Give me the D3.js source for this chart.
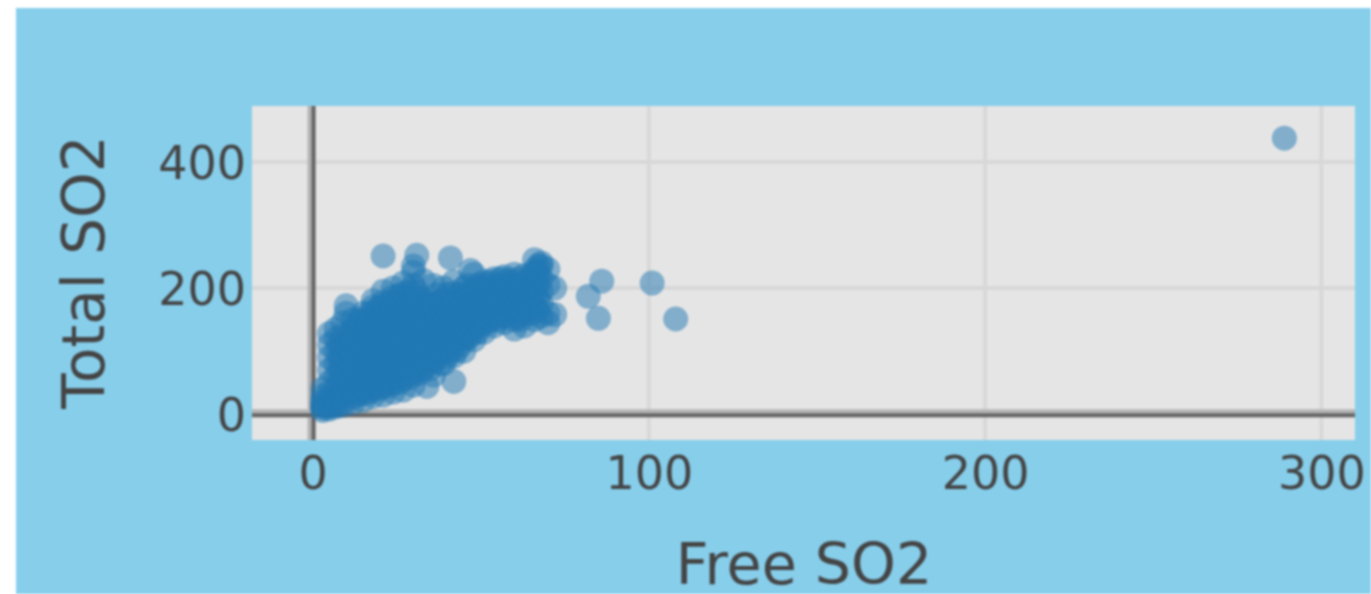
<!DOCTYPE html>
<html>
<head>
<meta charset="utf-8">
<script src="https://cdn.jsdelivr.net/npm/d3@7"></script>
<style>
  html, body { margin: 0; padding: 0; background: #fff; overflow: hidden; }
  svg { position: absolute; left: 16px; top: 8px; filter: blur(1.1px); }
  text { font-family: "DejaVu Sans", sans-serif; fill: #444; }
</style>
</head>
<body>
<script>
// values, row by row (same order in both arrays)
const freeSO2 = [
  3,3,3,3,3,3,
  5,5,5,5,5,5,5,5,5,5,
  7,7,7,7,7,7,7,7,7,
  8,8,8,8,8,
  9,9,9,9,9,9,9,9,9,
  10,10,
  11,11,11,11,11,11,
  12,12,12,12,12,12,12,12,12,
  13,13,13,13,13,13,13,
  14,14,14,14,14,14,14,
  15,15,15,15,15,15,15,15,15,
  16,16,16,16,16,16,16,
  17,17,17,17,17,17,17,17,
  18,18,18,18,18,18,18,18,18,18,
  19,19,19,19,19,19,19,
  20,20,20,20,20,20,20,20,
  21,21,21,21,21,21,21,21,21,21,21,
  22,22,22,22,22,22,22,
  23,23,23,23,23,23,23,23,
  24,24,24,24,24,24,24,24,24,24,
  25,25,25,25,25,25,25,
  26,26,26,26,26,26,26,26,
  27,27,27,27,27,27,27,27,27,27,
  28,28,28,28,28,28,28,
  29,29,29,29,29,29,29,29,
  30,30,30,30,30,30,30,30,30,30,31,30,
  31,31,31,31,31,31,31,
  32,32,32,32,32,32,32,
  34,33,33,33,33,33,33,33,33,
  34,34,34,34,34,34,
  35,35,35,35,35,35,
  36,36,36,36,36,36,36,36,
  37,37,37,37,37,37,
  38,38,38,38,38,38,
  39,39,39,39,39,39,39,
  40,40,40,40,40,40,
  41,41,41,41,41,
  42,42,42,42,42,42,42,42,41,
  43,43,43,43,43,
  44,44,44,44,44,
  45,45,45,45,45,45,
  46,46,46,46,46,46,
  47,47,47,47,
  48,48,48,48,48,48,47,
  49,49,49,49,49,
  50,50,50,50,
  51,51,51,51,51,
  52,52,52,52,
  53,53,53,53,
  54,54,54,54,54,
  55,55,55,55,
  56,56,56,56,
  57,57,57,57,57,
  58,58,58,58,
  59,59,59,
  60,60,60,60,60,60,
  61,61,61,61,
  62,62,62,62,
  63,63,63,63,63,
  64,64,64,
  65,65,65,65,
  66,66,66,66,66,66,
  67,67,67,67,67,
  68,68,68,68,68,68,
  70,70,70,70,72,72,
  82,86,85,101,108,289
];
const totalSO2 = [
  6,10,14,20,28,40,
  8,12,16,24,34,50,70,90,110,128,
  12,18,26,40,60,80,100,120,135,
  30,50,70,90,110,
  14,20,30,48,66,88,108,125,145,
  172,160,
  35,50,65,85,105,125,
  18,26,38,55,75,95,115,135,150,
  30,45,60,80,100,120,140,
  35,55,75,95,115,135,150,
  22,32,46,64,85,105,125,145,160,
  40,55,75,95,115,135,150,
  35,50,65,85,105,125,145,160,
  28,40,56,75,95,115,135,155,170,180,
  48,65,85,105,125,145,165,
  40,55,72,90,110,130,150,170,
  30,44,62,80,100,120,140,160,178,195,251,
  52,70,90,110,130,150,170,
  45,60,78,98,118,138,158,178,
  35,50,68,88,108,128,148,168,186,200,
  60,78,98,118,138,158,178,
  50,68,88,108,128,148,168,188,
  38,56,74,94,114,134,154,174,192,208,
  65,85,105,125,145,165,185,
  58,75,95,115,135,155,175,195,
  46,64,84,104,124,144,164,184,204,225,252,235,
  75,95,115,135,155,175,195,
  65,85,105,125,145,165,185,
  44,72,92,112,132,152,172,180,212,
  80,100,120,140,160,172,
  72,92,112,132,152,172,
  62,84,104,124,144,164,174,204,
  90,110,130,150,170,190,
  80,100,120,140,160,180,
  80,100,120,140,160,180,200,
  90,110,130,150,170,190,
  100,120,140,160,180,
  52,92,112,132,152,172,192,210,248,
  102,122,142,162,182,
  110,130,150,170,190,
  100,120,140,160,180,200,
  120,130,150,170,190,205,
  125,145,165,185,
  118,138,158,178,198,222,228,
  130,150,170,190,205,
  140,160,180,200,
  130,150,170,190,210,
  145,165,185,205,
  150,170,190,210,
  140,160,180,200,215,
  150,170,190,205,
  155,175,195,215,
  145,165,185,205,218,
  155,175,195,212,
  165,185,205,
  135,150,170,190,210,222,
  155,175,195,215,
  150,165,185,205,
  140,160,180,200,220,
  170,190,210,
  160,180,200,220,
  150,170,190,210,228,245,
  165,185,205,225,235,
  155,175,195,215,235,240,
  145,160,205,230,158,200,
  187,211,152,208,151,438
];
const xTicks = [0, 100, 200, 300];
const yTicks = [0, 200, 400];

const width = 1355;
const height = 586;

const svg = d3.select("body")
  .append("svg")
  .attr("width", width)
  .attr("height", height);

// svg sits at (16, 8), so everything below is moved by that offset
const x = d3.scaleLinear().domain([-18, 310]).range([252 - 16, 1355 - 16]);
const y = d3.scaleLinear().domain([-41, 489]).range([440 - 8, 106 - 8]);

svg.append("rect")
  .attr("width", width)
  .attr("height", height)
  .attr("fill", "#87ceeb");

svg.append("rect")
  .attr("x", x.range()[0])
  .attr("y", y.range()[1])
  .attr("width", x.range()[1] - x.range()[0])
  .attr("height", y.range()[0] - y.range()[1])
  .attr("fill", "#e5e5e5");

// Grid lines
svg.append("g").selectAll("line")
  .data(xTicks.filter(d => d !== 0))
  .enter().append("line")
  .attr("x1", d => x(d)).attr("x2", d => x(d))
  .attr("y1", y.range()[1]).attr("y2", y.range()[0])
  .attr("stroke", "#d8d8d8").attr("stroke-width", 4);

svg.append("g").selectAll("line")
  .data(yTicks.filter(d => d !== 0))
  .enter().append("line")
  .attr("x1", x.range()[0]).attr("x2", x.range()[1])
  .attr("y1", d => y(d)).attr("y2", d => y(d))
  .attr("stroke", "#d8d8d8").attr("stroke-width", 4);

// Zero lines, a light band with a darker core
[["#b4b4b4", 8, -1], ["#666", 4, 1]].forEach(([color, w, off]) => {
  svg.append("line")
    .attr("x1", x(0) + off).attr("x2", x(0) + off)
    .attr("y1", y.range()[1]).attr("y2", y.range()[0])
    .attr("stroke", color).attr("stroke-width", w);

  svg.append("line")
    .attr("x1", x.range()[0]).attr("x2", x.range()[1])
    .attr("y1", y(0) + off).attr("y2", y(0) + off)
    .attr("stroke", color).attr("stroke-width", w);
});

// Points
svg.append("g").selectAll("circle")
  .data(freeSO2.map((d, i) => [d, totalSO2[i]]))
  .enter().append("circle")
  .attr("cx", d => x(d[0]))
  .attr("cy", d => y(d[1]))
  .attr("r", 12.5)
  .attr("fill", "#1f77b4")
  .attr("fill-opacity", 0.5);

// Axes
const xAxis = svg.append("g")
  .attr("transform", `translate(0, ${y.range()[0]})`)
  .call(d3.axisBottom(x).tickValues(xTicks).tickSize(0).tickPadding(16));

const yAxis = svg.append("g")
  .attr("transform", `translate(${x.range()[0]}, 1.5)`)
  .call(d3.axisLeft(y).tickValues(yTicks).tickSize(0).tickPadding(6));

[xAxis, yAxis].forEach(g => {
  g.select(".domain").remove();
  g.selectAll("text").style("font-family", '"DejaVu Sans", sans-serif').style("font-size", "46px").style("fill", "#444");
});

svg.append("text")
  .attr("x", 804 - 16)
  .attr("y", 584 - 8)
  .attr("text-anchor", "middle")
  .style("font-size", "57px")
  .text("Free SO2");

svg.append("text")
  .attr("transform", `translate(${104 - 16}, ${272 - 8}) rotate(-90)`)
  .attr("text-anchor", "middle")
  .style("font-size", "58px")
  .text("Total SO2");
</script>
</body>
</html>
